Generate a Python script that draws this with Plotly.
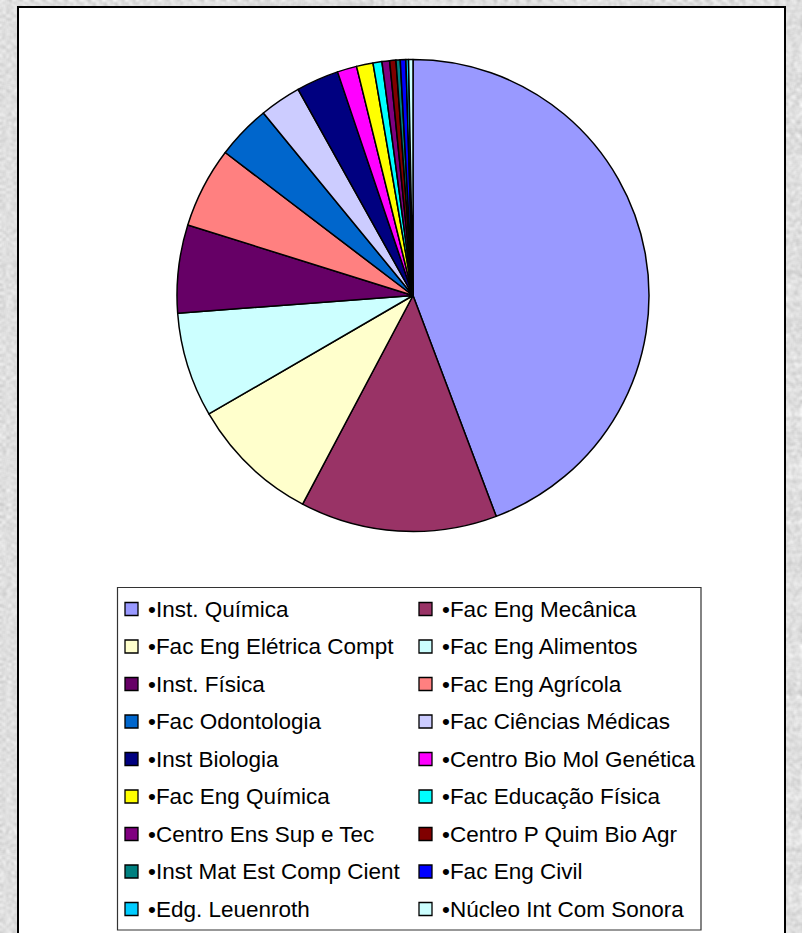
import base64
import struct
import zlib

import numpy as np
import plotly.graph_objects as go

# Share of each unit (percent), listed in pie order (clockwise from 12 o'clock)
labels = [
    "•Inst. Química", "•Fac Eng Mecânica",
    "•Fac Eng Elétrica Compt", "•Fac Eng Alimentos",
    "•Inst. Física", "•Fac Eng Agrícola",
    "•Fac Odontologia", "•Fac Ciências Médicas",
    "•Inst Biologia", "•Centro Bio Mol Genética",
    "•Fac Eng Química", "•Fac Educação Física",
    "•Centro Ens Sup e Tec", "•Centro P Quim Bio Agr",
    "•Inst Mat Est Comp Cient", "•Fac Eng Civil",
    "•Edg. Leuenroth", "•Núcleo Int Com Sonora",
]
values = [
    44.2, 13.46,
    8.87, 7.16,
    6.02, 5.52,
    3.71, 2.83,
    2.91, 1.33,
    1.13, 0.61,
    0.52, 0.43,
    0.29, 0.38,
    0.18, 0.30,
]
colors = [
    "#9999FF", "#993366",
    "#FFFFCC", "#CCFFFF",
    "#660066", "#FF8080",
    "#0066CC", "#CCCCFF",
    "#000080", "#FF00FF",
    "#FFFF00", "#00FFFF",
    "#800080", "#800000",
    "#008080", "#0000FF",
    "#00CCFF", "#CCFFFF",
]

W, H = 802, 933
FONT = "Liberation Sans, Arial, sans-serif"


def px(x):
    return x / W


def py(y):
    return 1 - y / H


def marble_png(w, h):
    """Light grey mottled paper texture, returned as a PNG data URI."""
    yy, xx = np.mgrid[0:h, 0:w].astype(np.uint64)
    hsh = (xx * np.uint64(73856093)) ^ (yy * np.uint64(19349663))
    hsh = (hsh * np.uint64(2654435761)) % np.uint64(1 << 32)
    n = (hsh >> np.uint64(8)).astype(np.float64) % 256 / 255.0
    for _ in range(2):
        p = np.pad(n, 1, mode="edge")
        n = sum(p[1 + dy:h + 1 + dy, 1 + dx:w + 1 + dx]
                for dy in (-1, 0, 1) for dx in (-1, 0, 1)) / 9.0
    n = (n - n.min()) / (n.max() - n.min())
    g = (200 + 50 * n).clip(0, 255).astype(np.uint8)
    raw = b"".join(b"\x00" + bytes(row) for row in g)

    def chunk(tag, data):
        c = struct.pack(">I", len(data)) + tag + data
        return c + struct.pack(">I", zlib.crc32(tag + data) & 0xFFFFFFFF)

    png = (b"\x89PNG\r\n\x1a\n"
           + chunk(b"IHDR", struct.pack(">IIBBBBB", w, h, 8, 0, 0, 0, 0))
           + chunk(b"IDAT", zlib.compress(raw, 9))
           + chunk(b"IEND", b""))
    return "data:image/png;base64," + base64.b64encode(png).decode()


# pie placement (pixels): centre and radius
cx, cy, r = 413, 295.5, 236

fig = go.Figure(
    go.Pie(
        labels=labels,
        values=values,
        sort=False,
        direction="clockwise",
        rotation=0,
        marker=dict(colors=colors, line=dict(color="black", width=1.5)),
        textinfo="none",
        hoverinfo="label+percent",
        showlegend=False,
        domain=dict(x=[px(cx - r), px(cx + r)], y=[py(cy + r), py(cy - r)]),
    )
)

shapes = [
    # white chart panel
    dict(type="rect", xref="paper", yref="paper", layer="below",
         x0=px(18), x1=px(785), y0=py(945), y1=py(7),
         fillcolor="white", line=dict(color="black", width=2)),
    # legend frame
    dict(type="rect", xref="paper", yref="paper", layer="below",
         x0=px(117.5), x1=px(701), y0=py(930), y1=py(587.5),
         fillcolor="white", line=dict(color="#333333", width=1.2)),
]
annotations = []

# two-column legend, filled row by row
col_x = [125, 419]
row_y0, row_step = 609, 37.5
sq = 13
for i, (lab, col) in enumerate(zip(labels, colors)):
    x = col_x[i % 2]
    y = row_y0 + (i // 2) * row_step
    shapes.append(dict(type="rect", xref="paper", yref="paper",
                       x0=px(x), x1=px(x + sq), y0=py(y + sq / 2), y1=py(y - sq / 2),
                       fillcolor=col, line=dict(color="black", width=1.3)))
    annotations.append(dict(xref="paper", yref="paper", x=px(x + sq + 8), y=py(y),
                            xanchor="left", yanchor="middle", showarrow=False,
                            text=lab, font=dict(family=FONT, size=22.5, color="black")))

fig.update_layout(
    width=W, height=H,
    margin=dict(l=0, r=0, t=0, b=0),
    paper_bgcolor="#e3e3e3",
    plot_bgcolor="white",
    images=[dict(source=marble_png(W, H), xref="paper", yref="paper",
                 x=0, y=1, sizex=1, sizey=1, xanchor="left", yanchor="top",
                 sizing="stretch", layer="below")],
    shapes=shapes,
    annotations=annotations,
    showlegend=False,
)

fig.write_html("out.html")
